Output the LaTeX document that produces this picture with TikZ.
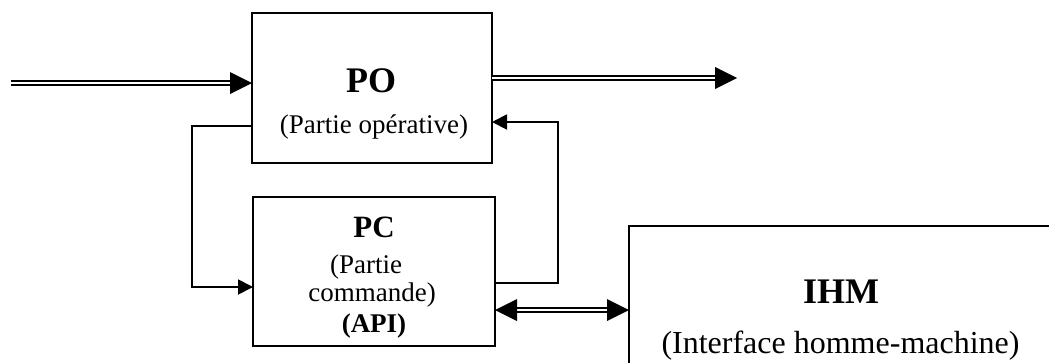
\documentclass[tikz,border=0pt]{standalone}
\usepackage{fontspec}
\setmainfont{Liberation Serif}
\usetikzlibrary{arrows.meta}

\tikzset{
  box/.style={draw, line width=2pt, rectangle, inner sep=0pt, outer sep=0pt},
  lbl/.style={inner sep=0pt, anchor=base},
  link/.style={line width=1.9pt, -{Triangle[length=15pt,width=15pt]}},
  flow/.style={line width=2.2pt, double distance=2.3pt, double=white, draw=black,
    shorten >=20pt},
}
\newcommand{\sz}[1]{\fontsize{#1}{#1}\selectfont}

\begin{document}
\begin{tikzpicture}[x=1pt, y=-1pt]
  \useasboundingbox (0,0) rectangle (1049,362);
  \clip (0,0) rectangle (1049,362);

  % blocks
  \node[box, minimum width=240pt, minimum height=150pt] (po) at (372,88) {};
  \node[box, minimum width=242pt, minimum height=149pt] (pc) at (374,271.5) {};
  \node[box, minimum width=440pt, minimum height=160pt] (ihm) at (849,306) {};

  % texts
  \node[lbl] (poT) at (371,92) {\sz{36}\bfseries PO};
  \node[lbl] (poS) at (374,133) {\sz{27}(Partie opérative)};
  \node[lbl] (pcT) at (374,237) {\sz{31}\bfseries PC};
  \node[lbl] (pcS1) at (366,273) {\sz{27}(Partie};
  \node[lbl] (pcS2) at (372,301) {\sz{27}commande)};
  \node[lbl] (pcS3) at (374,332) {\sz{27}\bfseries (API)};
  \node[lbl] (ihmT) at (841,303) {\sz{36}\bfseries IHM};
  \node[lbl] (ihmS) at (840.5,353) {\sz{32}(Interface homme-machine)};

  % free ends of the material flow
  \coordinate (in) at (11,83);
  \coordinate (out) at (737,78);
  \coordinate (poIn) at (po.west |- in);
  \coordinate (poOut) at (po.east |- out);

  % material flow in and out of PO
  \draw[flow] (in) -- (poIn);
  \fill (poIn) -- ++(-22,-11) -- ++(0,22) -- cycle;
  \draw[flow] (poOut) -- (out);
  \fill (out) -- ++(-22,-11) -- ++(0,22) -- cycle;

  % PO -> PC (measures)
  \coordinate (a1) at (po.west |- 0,126);
  \coordinate (a2) at (192,126);
  \coordinate (a3) at (192,287);
  \draw[link] (a1) -- (a2) -- (a3) -- (pc.west |- a3);

  % PC -> PO (orders)
  \coordinate (b1) at (pc.east |- 0,283);
  \coordinate (b2) at (558,283);
  \coordinate (b3) at (558,122);
  \draw[link] (b1) -- (b2) -- (b3) -- (po.east |- b3);

  % PC <-> IHM dialogue
  \coordinate (c1) at (pc.east |- 0,310);
  \coordinate (c2) at (ihm.west |- 0,310);
  \draw[flow, shorten <=20pt] (c1) -- (c2);
  \fill (c1) -- ++(22,-11) -- ++(0,22) -- cycle;
  \fill (c2) -- ++(-22,-11) -- ++(0,22) -- cycle;
\end{tikzpicture}
\end{document}
